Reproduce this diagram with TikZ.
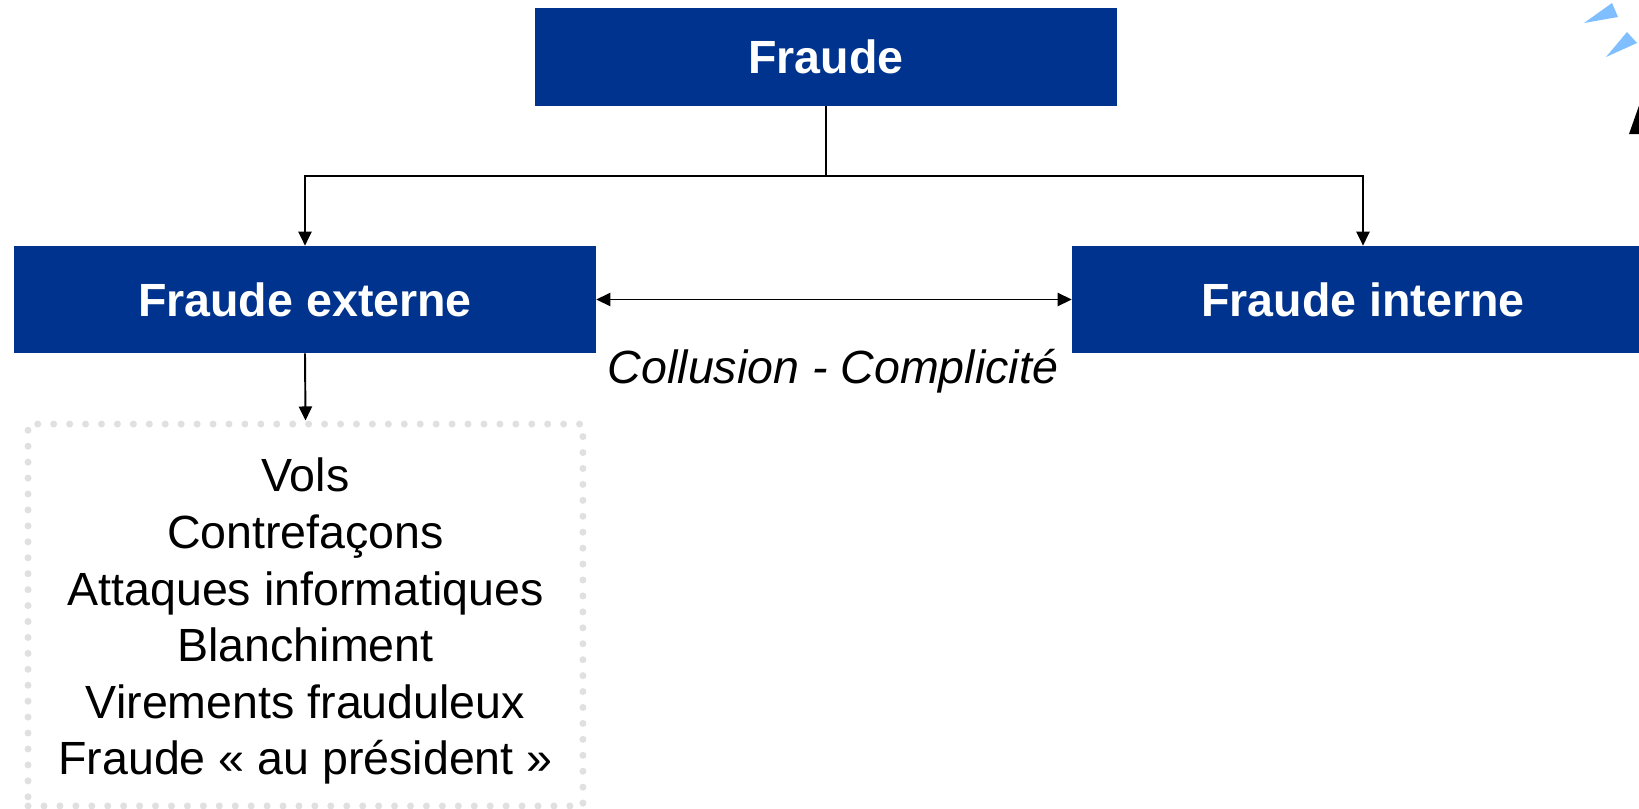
\documentclass[tikz,border=0pt]{standalone}
\usepackage{fontspec}
\setmainfont{Liberation Sans}
\usetikzlibrary{arrows.meta}
\definecolor{fraudblue}{RGB}{0,51,141}
\definecolor{tipblue}{RGB}{127,191,255}
\definecolor{dotgrey}{RGB}{224,224,224}

\begin{document}
\begin{tikzpicture}[x=0.02cm,y=-0.02cm,
  box/.style={fill=fraudblue,text=white,inner sep=0pt,minimum width=11.64cm,
    font=\fontsize{26.5}{30}\selectfont\bfseries},
  link/.style={line width=1.1pt,-{Triangle[length=8pt,width=7.5pt]}},
  twoway/.style={line width=1.1pt,{Triangle[length=8pt,width=7.5pt]}-{Triangle[length=8pt,width=7.5pt]}}]
\useasboundingbox (0,0) rectangle (1639,808);
\node[box,minimum height=1.96cm] (fraude) at (826,57) {Fraude};
\node[box,minimum height=2.14cm] (externe) at (305,299.5) {Fraude externe};
\node[box,minimum height=2.14cm] (interne) at (1363,299.5) {Fraude interne};
\coordinate (split) at (826,176);
\draw[line width=1.1pt] (fraude.south) -- (split);
\draw[link] (split) -| (externe.north);
\draw[link] (split) -| (interne.north);
\draw[twoway] (externe.east) -- (interne.west);
\node[font=\fontsize{26.5}{30}\selectfont\itshape] (collusion) at (833,371) {Collusion - Complicité};
\node[draw=dotgrey,line width=4pt,line cap=round,dash pattern=on 0pt off 9.07pt,
  minimum width=11.1cm,minimum height=7.64cm,align=center,
  font=\fontsize{26.5}{32.2}\selectfont] (liste) at (305.5,615)
  {\rule{0pt}{26.4pt}Vols\\Contrefaçons\\Attaques informatiques\\Blanchiment\\Virements frauduleux\\Fraude « au président »};
\draw[link] (externe.south) -- (liste.north);
\fill[tipblue] (1584,23) -- (1612,3) -- (1618,17) -- cycle;
\fill[tipblue] (1606,57) -- (1627,32) -- (1637,43) -- cycle;
\fill[black] (1629,134) -- (1641,100) -- (1644,134) -- cycle;
\end{tikzpicture}
\end{document}
